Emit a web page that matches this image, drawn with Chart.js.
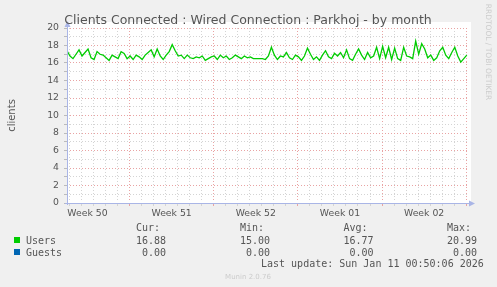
<!DOCTYPE html>
<html>
<head>
<meta charset="utf-8">
<script src="https://cdn.jsdelivr.net/npm/chart.js@4.4.1/dist/chart.umd.min.js"></script>
<style>
  html, body { margin: 0; padding: 0; background: #f0f0f0; }
  #wrap { width: 497px; height: 287px; }
</style>
</head>
<body>
<div id="wrap"><canvas id="chart" width="497" height="287"></canvas></div>
<script>
  // ---------- data ----------
  const titleText = 'Clients Connected : Wired Connection : Parkhoj - by month';
  const yTitle = 'clients';

  // x axis: days since Mon 8 Dec 2025 (start of week 50)
  const weekLabels = ['Week 50', 'Week 51', 'Week 52', 'Week 01', 'Week 02'];
  const weekStarts = [0, 7, 14, 21, 28];
  const xMin = 1.8, xMax = 35.15;

  // users samples, one every 6 hours starting at xMin
  const sampleStart = 1.8, sampleStep = 0.25;
  const usersValues = [
    17.4, 16.8, 16.5, 17.0, 17.5, 16.8, 17.2, 17.6, 16.6, 16.4,
    17.3, 17.0, 16.9, 16.6, 16.3, 16.9, 16.7, 16.5, 17.3, 17.1,
    16.5, 16.8, 16.4, 16.9, 16.7, 16.4, 16.9, 17.2, 17.5, 16.7,
    17.6, 16.8, 16.4, 16.9, 17.3, 18.1, 17.4, 16.8, 16.9, 16.5,
    16.9, 16.6, 16.5, 16.7, 16.6, 16.8, 16.3, 16.5, 16.7, 16.8,
    16.4, 16.9, 16.6, 16.8, 16.4, 16.6, 16.9, 16.7, 16.5, 16.8,
    16.6, 16.7, 16.5, 16.5, 16.5, 16.5, 16.4, 16.8, 17.8, 16.9,
    16.4, 16.8, 16.7, 17.2, 16.6, 16.4, 16.9, 16.7, 16.3, 16.8,
    17.7, 17.0, 16.4, 16.7, 16.3, 16.9, 17.4, 16.7, 16.5, 17.1,
    16.8, 17.2, 16.6, 17.5, 16.5, 16.3, 17.0, 17.6, 16.9, 16.4,
    17.2, 16.6, 16.8, 17.8, 16.5, 17.9, 16.6, 17.8, 16.4, 17.7,
    16.5, 16.3, 17.8, 16.8, 16.7, 16.5, 18.5, 17.0, 18.2, 17.6,
    16.6, 16.9, 16.3, 16.6, 17.4, 17.8, 16.9, 16.5, 17.2, 17.8,
    16.8, 16.1, 16.5, 16.9
  ];
  // guests stay at zero the whole month
  const guestsDays = [1.8, 35.05];
  const guestsValues = [0, 0];

  const yMin = 0, yMax = 20, yStep = 1;

  // legend block
  const seriesNames = ['Users', 'Guests'];
  const seriesColors = ['#00cc00', '#0066b3'];
  const statHeaders = ['Cur:', 'Min:', 'Avg:', 'Max:'];
  const statRows = [
    ['16.88', '15.00', '16.77', '20.99'],
    [' 0.00', ' 0.00', ' 0.00', ' 0.00']
  ];
  const lastUpdate = 'Last update: Sun Jan 11 00:50:06 2026';
  const versionText = 'Munin 2.0.76';
  const sideText = 'RRDTOOL / TOBI OETIKER';

  // ---------- styling ----------
  const textColor = '#555555';
  const axisColor = '#a9b5e6';
  const majorGrid = '#e9a3a3';
  const minorGrid = '#d4d4d4';
  const sans = 'DejaVu Sans';
  const mono = 'DejaVu Sans Mono';

  const usersPoints = usersValues.map((v, i) => ({ x: sampleStart + i * sampleStep, y: v }));
  const guestsPoints = guestsValues.map((v, i) => ({ x: guestsDays[i], y: v }));

  // x ticks: every day (grid), week boundaries (red), mid-week (labels)
  const labelPos = {};
  weekStarts.forEach((s, i) => { labelPos[s + 3.5] = weekLabels[i]; });
  const xTicks = [];
  for (let d = Math.ceil(xMin); d <= Math.floor(xMax); d++) xTicks.push(d);
  Object.keys(labelPos).forEach(k => xTicks.push(parseFloat(k)));
  xTicks.sort((a, b) => a - b);

  function xLineColor(v) {
    if (labelPos[v] !== undefined) return 'rgba(0,0,0,0)';
    return (v % 7 === 0) ? majorGrid : minorGrid;
  }

  const decor = {
    id: 'decor',
    beforeDraw(chart) {
      const { ctx, chartArea: a } = chart;
      ctx.save();
      ctx.fillStyle = '#f0f0f0';
      ctx.fillRect(0, 0, chart.width, chart.height);
      ctx.fillStyle = '#ffffff';
      ctx.fillRect(a.left, a.top - 6, a.right - a.left + 3, a.bottom - a.top + 6);
      ctx.restore();
    },
    afterDatasetsDraw(chart) {
      const { ctx, chartArea: a } = chart;
      const bx = Math.round(a.left) + 0.5, by = Math.round(a.bottom) + 0.5;
      ctx.save();
      // the zero guests line sits under the axis, as in munin
      ctx.fillStyle = '#ffffff';
      ctx.fillRect(bx + 0.5, by - 1.5, a.right - bx + 2, 1);
      ctx.strokeStyle = axisColor;
      ctx.fillStyle = axisColor;
      ctx.lineWidth = 1;
      ctx.beginPath();
      ctx.moveTo(a.left - 2, by);
      ctx.lineTo(a.right + 1, by);
      ctx.moveTo(bx, a.bottom + 2);
      ctx.lineTo(bx, a.top - 2);
      ctx.stroke();
      // arrows
      ctx.beginPath();
      ctx.moveTo(bx, a.top - 7);
      ctx.lineTo(bx - 3, a.top - 1);
      ctx.lineTo(bx + 3, a.top - 1);
      ctx.closePath();
      ctx.fill();
      ctx.beginPath();
      ctx.moveTo(a.right + 7, by);
      ctx.lineTo(a.right + 1, by - 3);
      ctx.lineTo(a.right + 1, by + 3);
      ctx.closePath();
      ctx.fill();
      ctx.restore();
    },
    afterDraw(chart) {
      const { ctx, chartArea: a } = chart;
      ctx.save();
      // title
      ctx.fillStyle = textColor;
      ctx.font = '12.5px "' + sans + '"';
      ctx.textAlign = 'center';
      ctx.textBaseline = 'alphabetic';
      ctx.fillText(titleText, 248, 24);
      // y title
      ctx.save();
      ctx.translate(15, (a.top + a.bottom) / 2);
      ctx.rotate(-Math.PI / 2);
      ctx.font = '10px "' + sans + '"';
      ctx.fillText(yTitle, 0, 0);
      ctx.restore();
      // side credit
      ctx.save();
      ctx.translate(485.5, 52);
      ctx.rotate(Math.PI / 2);
      ctx.fillStyle = '#cccccc';
      ctx.font = '7.5px "' + sans + '"';
      ctx.fillText(sideText, 0, 0);
      ctx.restore();
      // legend
      ctx.textAlign = 'left';
      ctx.font = '10px "' + mono + '"';
      const cols = [136, 240, 343.5, 447];
      statHeaders.forEach((h, i) => ctx.fillText(h, cols[i], 231));
      const rowY = [243.5, 255.5];
      seriesNames.forEach((n, r) => {
        ctx.fillStyle = seriesColors[r];
        ctx.fillRect(14, rowY[r] - 6.5, 6, 6);
        ctx.fillStyle = textColor;
        ctx.fillText(n, 26, rowY[r]);
        statRows[r].forEach((v, i) => ctx.fillText(v, cols[i], rowY[r]));
      });
      ctx.fillText(lastUpdate, 261, 267);
      // version
      ctx.fillStyle = '#cccccc';
      ctx.font = '7px "' + sans + '"';
      ctx.textAlign = 'center';
      ctx.fillText(versionText, 248, 279);
      ctx.restore();
    }
  };

  new Chart(document.getElementById('chart'), {
    type: 'line',
    data: {
      datasets: [
        { label: 'Guests', data: guestsPoints, borderColor: seriesColors[1], borderWidth: 1, pointRadius: 0 },
        { label: 'Users', data: usersPoints, borderColor: seriesColors[0], borderWidth: 1.3, pointRadius: 0, tension: 0 }
      ]
    },
    options: {
      responsive: false,
      animation: false,
      layout: { padding: { left: 0, top: 28, right: 29, bottom: 64 } },
      plugins: { legend: { display: false }, tooltip: { enabled: false }, title: { display: false } },
      scales: {
        x: {
          type: 'linear', min: xMin, max: xMax,
          afterBuildTicks: s => { s.ticks = xTicks.map(v => ({ value: v })); },
          afterFit: s => { s.height = 20; },
          grid: {
            color: c => xLineColor(c.tick.value),
            tickColor: c => xLineColor(c.tick.value),
            tickLength: 3, lineWidth: 1
          },
          border: { display: false, dash: [1, 2] },
          ticks: {
            autoSkip: false, maxRotation: 0, padding: 2, color: textColor,
            font: { family: sans, size: 9.3 },
            callback: v => labelPos[v] || ''
          }
        },
        y: {
          min: yMin, max: yMax,
          afterFit: s => { s.width = 67; },
          grid: {
            color: c => (c.tick.value % 2 === 0 ? majorGrid : minorGrid),
            tickColor: '#bbbbbb', tickLength: 3, lineWidth: 1
          },
          border: { display: false, dash: [1, 2] },
          ticks: {
            stepSize: yStep, autoSkip: false, padding: 5, color: textColor,
            font: { family: sans, size: 9.3 },
            callback: v => (v % 2 === 0 ? String(v) : '')
          }
        }
      }
    },
    plugins: [decor]
  });
</script>
</body>
</html>
